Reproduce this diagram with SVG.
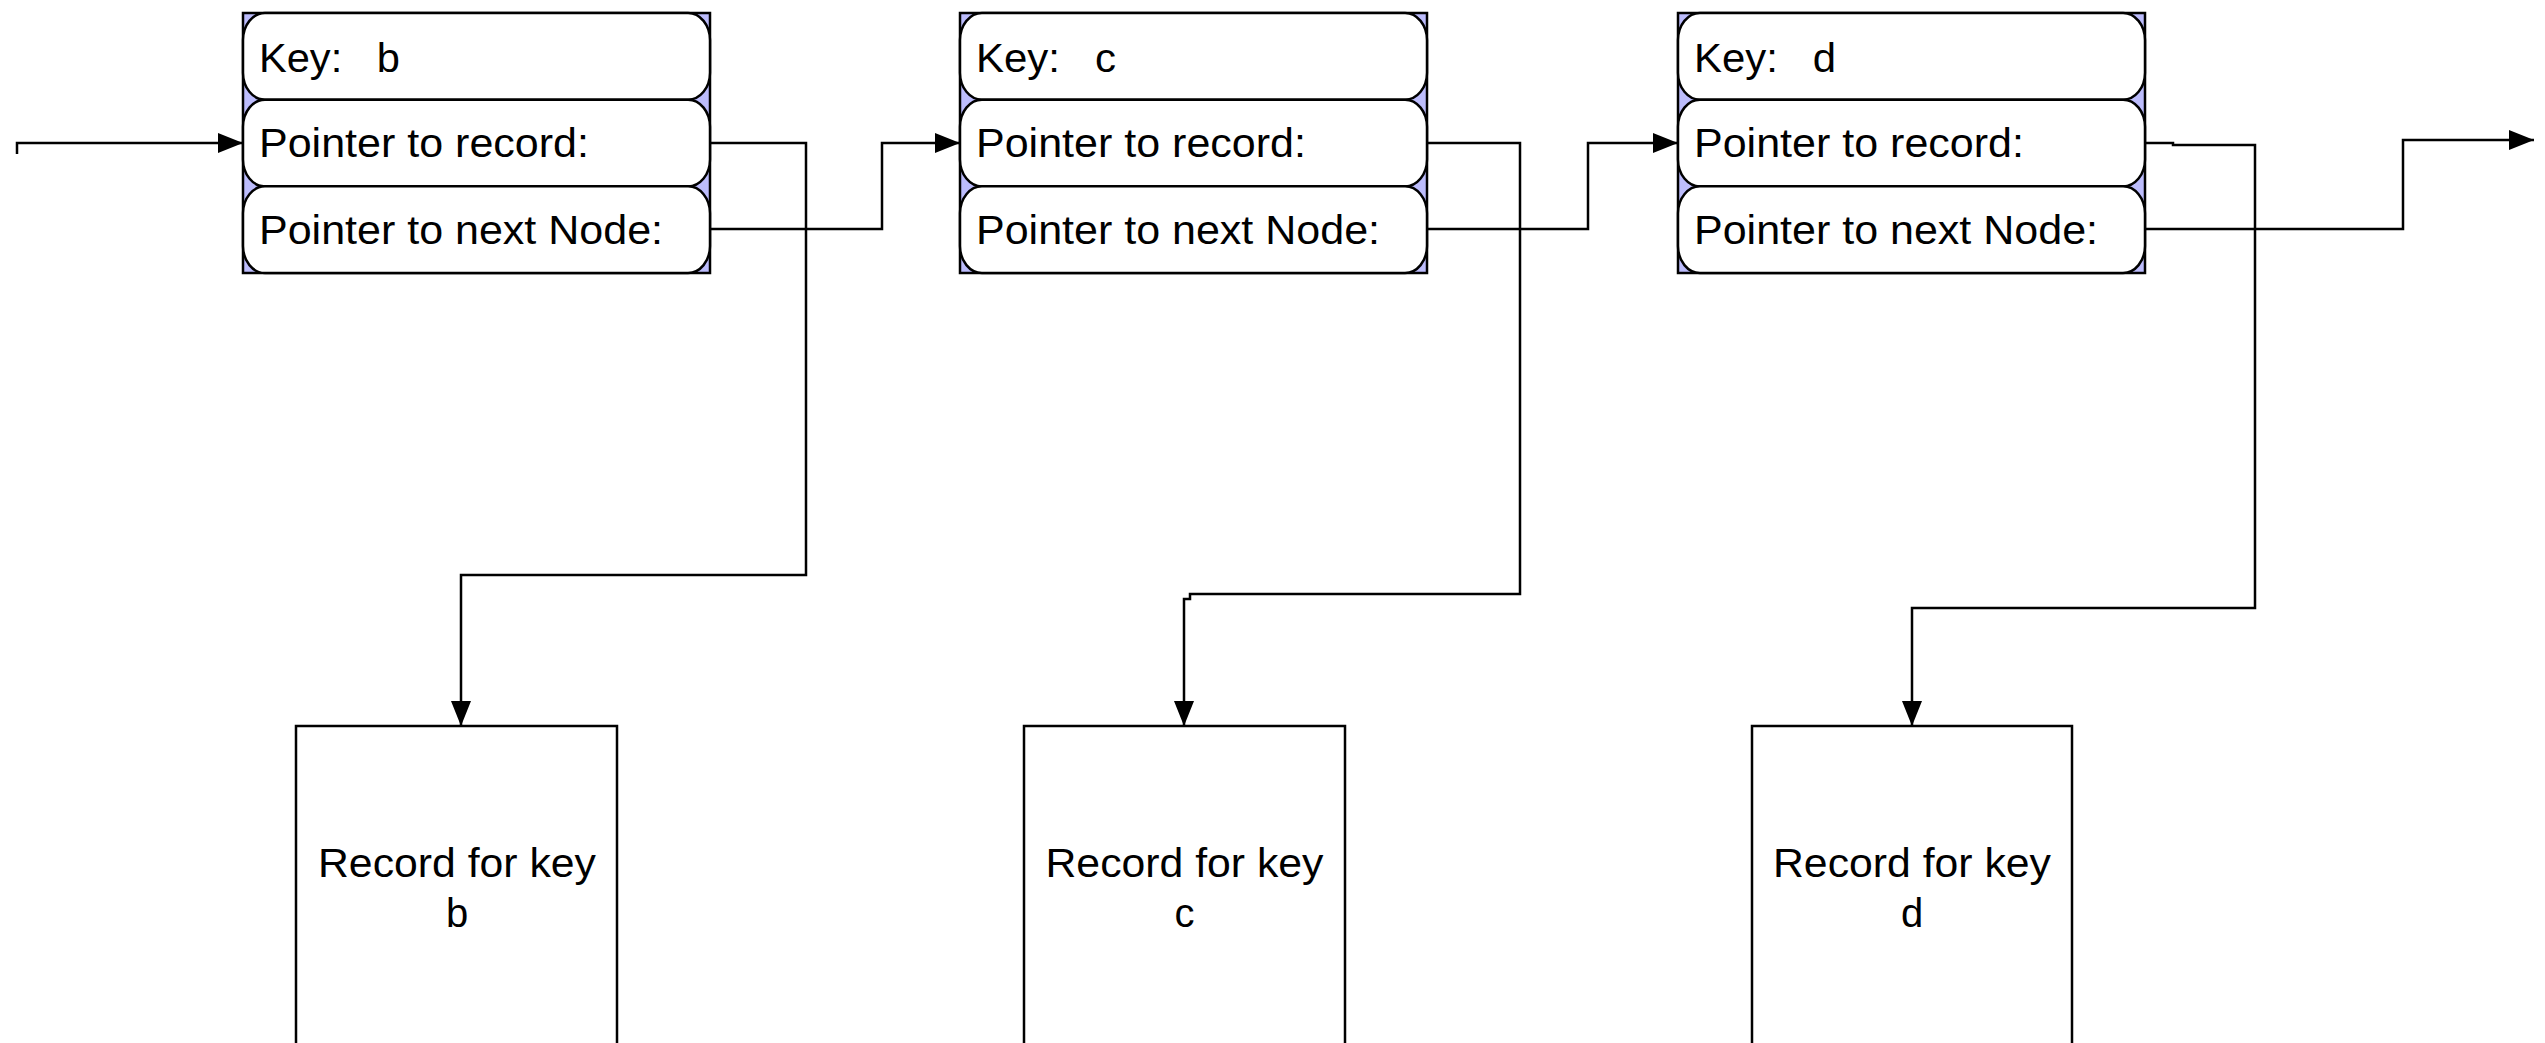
<svg xmlns="http://www.w3.org/2000/svg" width="2545" height="1043" viewBox="0 0 2545 1043">
<style>
.frame{fill:#bcbcfc;stroke:#000;stroke-width:2.5}
.row{fill:#fff;stroke:#000;stroke-width:2.5}
.rec{fill:#fff;stroke:#000;stroke-width:2.5}
.t{font-family:"Liberation Sans",Arial,Helvetica,sans-serif;font-size:40px;fill:#000;white-space:pre}
.c{text-anchor:middle}
.wire{fill:none;stroke:#000;stroke-width:2.5;stroke-linejoin:miter}
</style>
<defs>
<marker id="ah" markerUnits="userSpaceOnUse" markerWidth="26" markerHeight="20" refX="25" refY="10" orient="auto">
<path d="M0,0 L25,10 L0,20 Z" fill="#000"/>
</marker>
</defs>
<rect width="2545" height="1043" fill="#fff"/>

<g id="node-b">
<rect class="frame" x="243" y="13" width="467" height="260"/>
<rect class="row" x="243" y="13" width="467" height="86.7" rx="22" ry="27"/>
<rect class="row" x="243" y="99.7" width="467" height="86.7" rx="22" ry="27"/>
<rect class="row" x="243" y="186.3" width="467" height="86.7" rx="22" ry="27"/>
<text class="t" x="259" y="72" textLength="141" lengthAdjust="spacingAndGlyphs" xml:space="preserve">Key:   b</text>
<text class="t" x="259" y="157" textLength="330" lengthAdjust="spacingAndGlyphs">Pointer to record:</text>
<text class="t" x="259" y="244" textLength="404" lengthAdjust="spacingAndGlyphs">Pointer to next Node:</text>
</g>

<g id="node-c">
<rect class="frame" x="960" y="13" width="467" height="260"/>
<rect class="row" x="960" y="13" width="467" height="86.7" rx="22" ry="27"/>
<rect class="row" x="960" y="99.7" width="467" height="86.7" rx="22" ry="27"/>
<rect class="row" x="960" y="186.3" width="467" height="86.7" rx="22" ry="27"/>
<text class="t" x="976" y="72" textLength="140" lengthAdjust="spacingAndGlyphs" xml:space="preserve">Key:   c</text>
<text class="t" x="976" y="157" textLength="330" lengthAdjust="spacingAndGlyphs">Pointer to record:</text>
<text class="t" x="976" y="244" textLength="404" lengthAdjust="spacingAndGlyphs">Pointer to next Node:</text>
</g>

<g id="node-d">
<rect class="frame" x="1678" y="13" width="467" height="260"/>
<rect class="row" x="1678" y="13" width="467" height="86.7" rx="22" ry="27"/>
<rect class="row" x="1678" y="99.7" width="467" height="86.7" rx="22" ry="27"/>
<rect class="row" x="1678" y="186.3" width="467" height="86.7" rx="22" ry="27"/>
<text class="t" x="1694" y="72" textLength="142" lengthAdjust="spacingAndGlyphs" xml:space="preserve">Key:   d</text>
<text class="t" x="1694" y="157" textLength="330" lengthAdjust="spacingAndGlyphs">Pointer to record:</text>
<text class="t" x="1694" y="244" textLength="404" lengthAdjust="spacingAndGlyphs">Pointer to next Node:</text>
</g>

<g id="record-b">
<rect class="rec" x="296" y="726" width="321" height="400"/>
<text class="t c" x="457" y="877" textLength="278" lengthAdjust="spacingAndGlyphs">Record for key</text>
<text class="t c" x="457" y="927">b</text>
</g>

<g id="record-c">
<rect class="rec" x="1024" y="726" width="321" height="400"/>
<text class="t c" x="1184.5" y="877" textLength="278" lengthAdjust="spacingAndGlyphs">Record for key</text>
<text class="t c" x="1184.5" y="927">c</text>
</g>

<g id="record-d">
<rect class="rec" x="1752" y="726" width="320" height="400"/>
<text class="t c" x="1912" y="877" textLength="278" lengthAdjust="spacingAndGlyphs">Record for key</text>
<text class="t c" x="1912" y="927">d</text>
</g>

<g id="connectors">
<path class="wire" d="M17,154 L17,143 L243,143" marker-end="url(#ah)"/>
<path class="wire" d="M710,143 L806,143 L806,575 L461,575 L461,726" marker-end="url(#ah)"/>
<path class="wire" d="M710,229 L882,229 L882,143 L960,143" marker-end="url(#ah)"/>
<path class="wire" d="M1427,143 L1520,143 L1520,594 L1190,594 L1190,599 L1184,599 L1184,726" marker-end="url(#ah)"/>
<path class="wire" d="M1427,229 L1588,229 L1588,143 L1678,143" marker-end="url(#ah)"/>
<path class="wire" d="M2145,143 L2173,143 L2173,145 L2255,145 L2255,608 L1912,608 L1912,726" marker-end="url(#ah)"/>
<path class="wire" d="M2145,229 L2403,229 L2403,140 L2534,140" marker-end="url(#ah)"/>
</g>
</svg>
